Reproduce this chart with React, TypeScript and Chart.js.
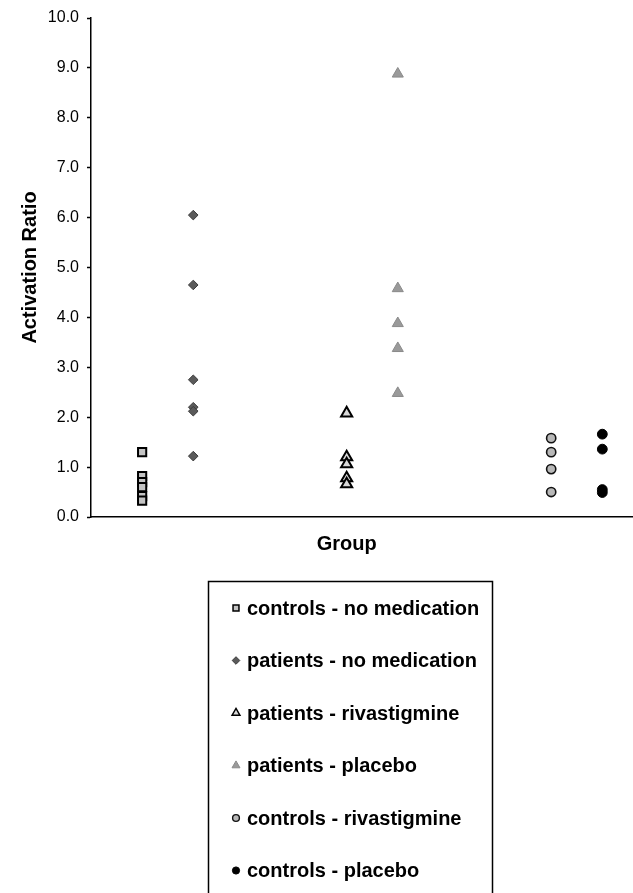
import React, { useEffect, useRef } from 'react';
import { Chart, registerables } from 'chart.js';

Chart.register(...registerables);

// ---- data ----
const seriesNames = [
  'controls - no medication',
  'patients - no medication',
  'patients - rivastigmine',
  'patients - placebo',
  'controls - rivastigmine',
  'controls - placebo',
];
// x position of each group column (arbitrary "Group" axis units)
const groupPositions = [1, 2, 5, 6, 9, 10];
const controlsNoMedication = [1.3, 0.82, 0.7, 0.6, 0.42, 0.33];
const patientsNoMedication = [6.05, 4.65, 2.75, 2.2, 2.12, 1.22];
const patientsRivastigmine = [2.08, 1.2, 1.06, 0.78, 0.66];
const patientsPlacebo = [8.88, 4.58, 3.88, 3.38, 2.48];
const controlsRivastigmine = [1.58, 1.3, 0.96, 0.5];
const controlsPlacebo = [1.66, 1.36, 0.55, 0.49];
const yTickValues = [0, 1, 2, 3, 4, 5, 6, 7, 8, 9, 10];
const xTitle = 'Group';
const yTitle = 'Activation Ratio';

const FONT = "'Liberation Sans', Arial, sans-serif";

const allSeries = [
  controlsNoMedication,
  patientsNoMedication,
  patientsRivastigmine,
  patientsPlacebo,
  controlsRivastigmine,
  controlsPlacebo,
];

const styles = [
  { pointStyle: 'rect', radius: 5.8, bg: '#c4c4c4', border: '#000000', bw: 2, lr: 4.2, lbw: 1.5 },
  { pointStyle: 'rectRot', radius: 4.8, bg: '#5a5a5a', border: '#3a3a3a', bw: 1, lr: 3.8, lbw: 1 },
  { pointStyle: 'triangle', radius: 6.4, bg: '#d8d8d8', border: '#000000', bw: 2, lr: 4.6, lbw: 1.4 },
  { pointStyle: 'triangle', radius: 6.4, bg: '#9a9a9a', border: '#8a8a8a', bw: 1, lr: 4.6, lbw: 1 },
  { pointStyle: 'circle', radius: 4.6, bg: '#b8b8b8', border: '#111111', bw: 1.6, lr: 3.4, lbw: 1.4 },
  { pointStyle: 'circle', radius: 4.9, bg: '#000000', border: '#000000', bw: 1, lr: 3.6, lbw: 1 },
];

function drawMarker(
  ctx: CanvasRenderingContext2D,
  style: string,
  x: number,
  y: number,
  r: number,
  fill: string,
  stroke: string,
  lw: number
) {
  ctx.save();
  ctx.beginPath();
  if (style === 'rect') {
    const s = r * Math.SQRT1_2;
    ctx.rect(x - s, y - s, 2 * s, 2 * s);
  } else if (style === 'rectRot') {
    ctx.moveTo(x, y - r);
    ctx.lineTo(x + r, y);
    ctx.lineTo(x, y + r);
    ctx.lineTo(x - r, y);
    ctx.closePath();
  } else if (style === 'triangle') {
    const a = -Math.PI / 2;
    ctx.moveTo(x + Math.cos(a) * r, y + Math.sin(a) * r);
    ctx.lineTo(x + Math.cos(a + (2 * Math.PI) / 3) * r, y + Math.sin(a + (2 * Math.PI) / 3) * r);
    ctx.lineTo(x + Math.cos(a + (4 * Math.PI) / 3) * r, y + Math.sin(a + (4 * Math.PI) / 3) * r);
    ctx.closePath();
  } else {
    ctx.arc(x, y, r, 0, Math.PI * 2);
  }
  ctx.fillStyle = fill;
  ctx.fill();
  ctx.lineWidth = lw;
  ctx.strokeStyle = stroke;
  ctx.stroke();
  ctx.restore();
}

const overlayPlugin = {
  id: 'overlay',
  afterDraw(chart: any) {
    const ctx: CanvasRenderingContext2D = chart.ctx;
    const xs = chart.scales.x;
    // x-axis title
    ctx.save();
    ctx.font = `bold 20px ${FONT}`;
    ctx.fillStyle = '#000';
    ctx.textAlign = 'center';
    ctx.textBaseline = 'middle';
    ctx.fillText(xTitle, xs.getPixelForValue(5), 544);
    ctx.restore();

    // legend box
    ctx.save();
    ctx.strokeStyle = '#000';
    ctx.lineWidth = 1.5;
    ctx.strokeRect(208.5, 581.5, 284, 400);
    ctx.font = `bold 20px ${FONT}`;
    ctx.fillStyle = '#000';
    ctx.textAlign = 'left';
    ctx.textBaseline = 'middle';
    seriesNames.forEach((name, i) => {
      const y = 608 + 52.5 * i;
      const st = styles[i];
      drawMarker(ctx, st.pointStyle, 236, y, st.lr, st.bg, st.border, st.lbw);
      ctx.fillStyle = '#000';
      ctx.fillText(name, 247, y + 1);
    });
    ctx.restore();
  },
};

export default function App() {
  const ref = useRef<HTMLCanvasElement | null>(null);

  useEffect(() => {
    if (!ref.current) return;
    const datasets = allSeries.map((vals, i) => ({
      label: seriesNames[i],
      data: vals.map((v) => ({ x: groupPositions[i], y: v })),
      pointStyle: styles[i].pointStyle as any,
      pointRadius: styles[i].radius,
      pointHoverRadius: styles[i].radius,
      backgroundColor: styles[i].bg,
      borderColor: styles[i].border,
      pointBorderWidth: styles[i].bw,
      showLine: false,
      clip: false as any,
    }));

    const chart = new Chart(ref.current, {
      type: 'scatter',
      data: { datasets },
      options: {
        animation: false,
        responsive: false,
        maintainAspectRatio: false,
        layout: { autoPadding: false, padding: { left: 0, top: 18, right: 0, bottom: 336 } },
        plugins: {
          legend: { display: false },
          tooltip: { enabled: false },
        },
        scales: {
          x: {
            type: 'linear',
            min: 0,
            max: 10.6,
            ticks: { display: false },
            grid: { display: true, drawOnChartArea: false, drawTicks: false },
            border: { display: true, color: '#000', width: 1.5 },
            afterFit: (scale: any) => {
              scale.height = 40;
            },
          },
          y: {
            type: 'linear',
            min: 0,
            max: 10,
            afterBuildTicks: (scale: any) => {
              scale.ticks = yTickValues.map((v) => ({ value: v }));
            },
            ticks: {
              color: '#000',
              font: { family: FONT, size: 16 },
              padding: 8,
              callback: (v: any) => Number(v).toFixed(1),
            },
            grid: {
              display: true,
              drawOnChartArea: false,
              drawTicks: true,
              tickLength: 4,
              tickWidth: 1.5,
              color: '#000',
            },
            border: { display: true, color: '#000', width: 1.5 },
            title: {
              display: true,
              text: yTitle,
              color: '#000',
              font: { family: FONT, size: 20, weight: 'bold' },
              padding: { top: 18, bottom: 0 },
            },
            afterFit: (scale: any) => {
              scale.width = 91;
            },
          },
        },
      },
      plugins: [overlayPlugin],
    });
    return () => chart.destroy();
  }, []);

  return (
    <div style={{ position: 'absolute', left: 0, top: 0, width: 633, height: 893, background: '#fff' }}>
      <canvas ref={ref} width={633} height={893} style={{ display: 'block' }} />
    </div>
  );
}
